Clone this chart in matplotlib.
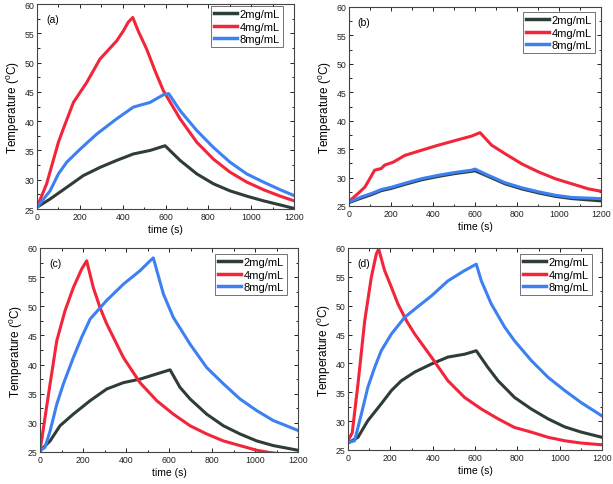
import numpy as np
import matplotlib
matplotlib.use("Agg")
import matplotlib.pyplot as plt
from matplotlib.ticker import MultipleLocator

plt.rcParams.update({
    "font.family": ["Liberation Sans", "DejaVu Sans"],
    "mathtext.fontset": "custom",
    "mathtext.rm": "Liberation Sans",
    "mathtext.it": "Liberation Sans",
    "font.size": 7,
    "axes.linewidth": 0.8,
    "axes.edgecolor": "#444444",
    "xtick.direction": "in",
    "ytick.direction": "in",
    "xtick.top": True,
    "ytick.right": True,
})

DARK = "#2e3d38"
RED = "#f2253a"
BLUE = "#3d80f2"
LABELS = ["2mg/mL", "4mg/mL", "8mg/mL"]

# ── Panel (a) ────────────────────────────────────────────────────────────────
a_t_dark = [0, 61, 139, 216, 294, 372, 450, 528, 598, 668, 746, 824, 901,
            979, 1057, 1135, 1200]
a_T_dark = [25.3, 26.7, 28.7, 30.7, 32.1, 33.3, 34.4, 35.0, 35.8, 33.3, 31.0,
            29.3, 28.1, 27.2, 26.4, 25.7, 25.1]
a_t_red = [0, 45, 100, 123, 170, 232, 294, 372, 403, 426, 447, 475, 512,
           551, 590, 668, 746, 824, 901, 979, 1057, 1135, 1200]
a_T_red = [25.3, 29.3, 36.4, 38.7, 43.2, 46.6, 50.6, 53.7, 55.4, 56.9, 57.7,
           55.2, 52.3, 48.6, 45.2, 40.4, 36.4, 33.5, 31.3, 29.6, 28.3, 27.2,
           26.4]
a_t_blue = [0, 61, 100, 139, 201, 279, 372, 450, 528, 590, 615, 668, 746,
            824, 901, 979, 1057, 1135, 1200]
a_T_blue = [25.3, 28.1, 31.0, 33.0, 35.2, 37.8, 40.4, 42.4, 43.2, 44.5, 44.7,
            41.8, 38.4, 35.5, 33.0, 31.0, 29.6, 28.3, 27.3]

# ── Panel (b) ────────────────────────────────────────────────────────────────
b_t_dark = [0, 59, 107, 154, 202, 266, 345, 425, 504, 584, 600, 663, 743,
            823, 902, 982, 1061, 1200]
b_T_dark = [25.6, 26.4, 27.0, 27.7, 28.1, 28.8, 29.6, 30.2, 30.7, 31.1, 31.2,
            30.2, 28.9, 28.0, 27.3, 26.7, 26.3, 25.9]
b_t_red = [0, 43, 75, 99, 122, 154, 170, 210, 266, 345, 425, 504, 584, 624,
           679, 743, 823, 902, 982, 1061, 1141, 1200]
b_T_red = [25.8, 27.2, 28.3, 29.8, 31.3, 31.6, 32.2, 32.7, 33.9, 34.8, 35.7,
           36.5, 37.3, 37.9, 35.7, 34.2, 32.4, 31.0, 29.8, 28.9, 28.0, 27.6]
b_t_blue = [0, 59, 107, 154, 202, 266, 345, 425, 504, 584, 600, 663, 743,
            823, 902, 982, 1061, 1200]
b_T_blue = [25.7, 26.6, 27.2, 27.9, 28.3, 29.0, 29.8, 30.4, 30.9, 31.3, 31.5,
            30.4, 29.1, 28.2, 27.5, 26.9, 26.5, 26.3]

# ── Panel (c) ────────────────────────────────────────────────────────────────
c_t_dark = [0, 47, 93, 155, 233, 310, 388, 465, 543, 605, 651, 698, 775, 853,
            930, 1008, 1085, 1200]
c_T_dark = [25.2, 26.9, 29.5, 31.5, 33.8, 35.8, 36.9, 37.5, 38.4, 39.1, 36.1,
            34.1, 31.5, 29.5, 28.1, 26.9, 26.1, 25.3]
c_t_red = [0, 47, 78, 116, 155, 194, 217, 248, 279, 310, 388, 465, 543, 620,
           698, 775, 853, 930, 1008, 1070, 1200]
c_T_red = [25.2, 36.7, 44.1, 49.2, 53.2, 56.4, 57.8, 53.2, 49.8, 47.0, 41.2,
           36.9, 33.8, 31.5, 29.5, 28.1, 26.9, 26.1, 25.3, 24.9, 24.3]
c_t_blue = [0, 23, 47, 78, 109, 155, 194, 233, 310, 388, 465, 512, 527, 574,
            620, 698, 775, 853, 930, 1008, 1085, 1200]
c_T_blue = [25.2, 25.8, 28.6, 33.2, 36.7, 41.2, 44.7, 47.8, 51.0, 53.8, 56.1,
            57.8, 58.3, 52.1, 48.1, 43.5, 39.5, 36.7, 34.1, 32.1, 30.4, 28.7]

# ── Panel (d) ────────────────────────────────────────────────────────────────
d_t_dark = [0, 47, 94, 157, 205, 252, 315, 394, 472, 551, 606, 661, 709, 787,
            866, 945, 1024, 1102, 1200]
d_T_dark = [26.2, 27.2, 30.1, 33.0, 35.3, 37.0, 38.5, 39.9, 41.1, 41.6, 42.2,
            39.3, 37.0, 34.1, 32.1, 30.4, 29.0, 28.1, 27.2]
d_t_red = [0, 20, 47, 79, 110, 134, 145, 173, 205, 236, 276, 315, 394, 472,
           551, 630, 709, 787, 866, 945, 1024, 1102, 1200]
d_T_red = [26.6, 28.0, 36.4, 47.4, 54.9, 59.0, 59.8, 56.1, 53.2, 50.3, 47.4,
           45.1, 41.1, 37.0, 34.1, 32.1, 30.4, 28.9, 28.1, 27.2, 26.6, 26.2,
           25.9]
d_t_blue = [0, 31, 63, 94, 126, 157, 205, 268, 315, 394, 472, 551, 606, 630,
            677, 740, 787, 866, 945, 1024, 1102, 1200]
d_T_blue = [26.3, 26.6, 31.2, 35.9, 39.3, 42.2, 45.1, 48.0, 49.4, 51.7, 54.3,
            56.1, 57.2, 54.3, 50.3, 46.3, 43.9, 40.5, 37.6, 35.3, 33.2, 30.9]

panels = [
    ("(a)", [37, 5, 294, 210], [213, 7, 283, 52],
     (a_t_dark, a_T_dark), (a_t_red, a_T_red), (a_t_blue, a_T_blue)),
    ("(b)", [349, 8, 601, 207], [520, 13, 595, 55],
     (b_t_dark, b_T_dark), (b_t_red, b_T_red), (b_t_blue, b_T_blue)),
    ("(c)", [40, 249, 298, 453], [217, 255, 287, 298],
     (c_t_dark, c_T_dark), (c_t_red, c_T_red), (c_t_blue, c_T_blue)),
    ("(d)", [348, 249, 602, 451], [525, 255, 592, 297],
     (d_t_dark, d_T_dark), (d_t_red, d_T_red), (d_t_blue, d_T_blue)),
]

W, H = 613, 485
fig = plt.figure(figsize=(W / 100, H / 100), dpi=100)

for tag, (x0, y0, x1, y1), (lx0, ly0, lx1, ly1), dark, red, blue in panels:
    ax = fig.add_axes([x0 / W, 1 - y1 / H, (x1 - x0) / W, (y1 - y0) / H])
    for (t, T), col, lab in zip([dark, red, blue], [DARK, RED, BLUE], LABELS):
        ax.plot(t, T, color=col, lw=2.2, label=lab)
    ax.set_xlim(0, 1200)
    ax.set_ylim(25, 60)
    ax.xaxis.set_major_locator(MultipleLocator(200))
    ax.xaxis.set_minor_locator(MultipleLocator(100))
    ax.yaxis.set_major_locator(MultipleLocator(5))
    ax.yaxis.set_minor_locator(MultipleLocator(2.5))
    ax.tick_params(which="major", length=3, width=0.7, labelsize=6.3,
                   pad=2, colors="#222222")
    ax.tick_params(which="minor", length=1.8, width=0.6)
    ax.set_xlabel("time (s)", fontsize=7.5, labelpad=2)
    ax.set_ylabel(r"Temperature ($^{0}$C)", fontsize=8.5, labelpad=2)
    ax.text(0.035, 0.95, tag, transform=ax.transAxes, fontsize=7.5,
            va="top", ha="left")
    # legend anchored at the reference box's top-right corner (pixels)
    anchor = ((lx1 - x0) / (x1 - x0), 1 - (ly0 - y0) / (y1 - y0))
    leg = ax.legend(loc="upper right", bbox_to_anchor=anchor,
                    borderaxespad=0, fontsize=8, frameon=True,
                    fancybox=False, handlelength=2.1, handletextpad=0.2,
                    borderpad=0.3, labelspacing=0.2)
    leg.get_frame().set_edgecolor("#333333")
    leg.get_frame().set_linewidth(0.6)
    for ln in leg.get_lines():
        ln.set_linewidth(2.5)

fig.savefig("out.png", dpi=100)
